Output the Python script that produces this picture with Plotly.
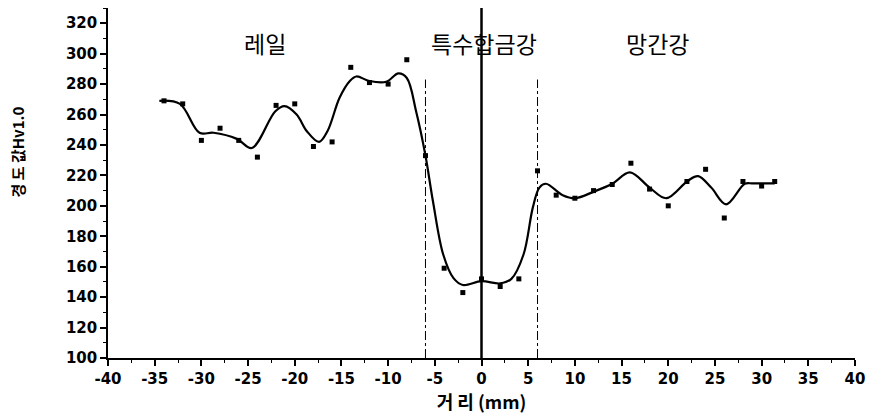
import plotly.graph_objects as go

# measured hardness points
pt_x = [-34, -32, -30, -28, -26, -24, -22, -20, -18, -16, -14, -12, -10, -8, -6, -4, -2, 0, 2, 4, 6,
        8, 10, 12, 14, 16, 18, 20, 22, 24, 26, 28, 30, 31.4]
pt_y = [269, 267, 243, 251, 243, 232, 266, 267, 239, 242, 291, 281, 280, 296, 233, 159, 143, 152, 147, 152, 223,
        207, 205, 210, 214, 228, 211, 200, 216, 224, 192, 216, 213, 216]

# smoothed curve
cv_x = [-34.5, -32.3, -30.2, -28.7, -26.2, -24.6, -22.1, -21.1, -19.8, -18.7, -17.4, -16.5, -15.2, -14.1, -13.4,
        -12, -10.2, -8.9, -8.0, -7.0, -6.0, -5.2, -4.1, -3.0, -2.0, 0, 2, 3.2, 4.5, 5.5, 6.2, 6.9, 8.7, 10, 12.1,
        14, 15.9, 18, 19.8, 22.1, 23.2, 24.6, 26.2, 28.2, 29.1, 31.4]
cv_y = [269, 267, 248, 248, 244, 238, 262, 265.5, 260, 249, 242, 249, 271, 282, 285,
        282, 281.5, 287, 284, 262, 233, 203, 168, 152.5, 148, 150.5, 149, 152, 168, 199, 212, 214.5, 207, 205, 209.5,
        214.5, 222, 212, 205, 216.5, 219.5, 212, 201, 214.5, 214.7, 214.7]

x_ticks = [-40, -35, -30, -25, -20, -15, -10, -5, 0, 5, 10, 15, 20, 25, 30, 35, 40]
y_ticks = [100, 120, 140, 160, 180, 200, 220, 240, 260, 280, 300, 320]

zones = ["레일", "특수합금강", "망간강"]
zone_x = [-23.2, 0.3, 18.8]
zone_y = [307, 307, 307]

fig = go.Figure()
fig.add_trace(go.Scatter(x=cv_x, y=cv_y, mode="lines",
                         line=dict(color="black", width=2.2, shape="spline", smoothing=1.0),
                         hoverinfo="skip", showlegend=False))
fig.add_trace(go.Scatter(x=pt_x, y=pt_y, mode="markers",
                         marker=dict(symbol="square", size=5, color="black"),
                         showlegend=False))

# boundaries
fig.add_shape(type="line", x0=0, x1=0, y0=100, y1=330, line=dict(color="black", width=2.5))
for xb in (-6, 6):
    fig.add_shape(type="line", x0=xb, x1=xb, y0=100, y1=283,
                  line=dict(color="black", width=1, dash="dashdot"))

for t, xx, yy in zip(zones, zone_x, zone_y):
    fig.add_annotation(x=xx, y=yy, text=t, showarrow=False,
                       font=dict(family="Noto Sans CJK KR", size=23, color="black"))

# y-axis title
fig.add_annotation(xref="paper", yref="paper", x=-0.121, y=0.589, xanchor="center", yanchor="middle",
                   text="경 도 값Hv1.0", textangle=-90, showarrow=False,
                   font=dict(family="Noto Sans CJK KR", size=15, color="black", weight="bold"))

bold = dict(family="DejaVu Sans", size=15, color="black", weight="bold")
fig.update_layout(
    width=869, height=412,
    margin=dict(l=100, r=22, t=0, b=62),
    plot_bgcolor="white", paper_bgcolor="white",
    xaxis=dict(range=[-40, 40], tickvals=x_ticks, ticktext=[str(v) for v in x_ticks],
               automargin=False,
               showgrid=False, zeroline=False, showline=True, linecolor="black", linewidth=1.5,
               ticks="outside", ticklen=6, tickwidth=1.5, tickcolor="black", tickfont=bold,
               ticklabelstandoff=0,
               minor=dict(dtick=2.5, ticks="outside", ticklen=3, tickcolor="black", tickwidth=1),
               title=dict(text="거 리 (mm)", font=dict(family="Noto Sans CJK KR", size=18,
                                                     color="black", weight="bold"), standoff=6)),
    yaxis=dict(range=[100, 330], tickvals=y_ticks, ticktext=[str(v) for v in y_ticks],
               automargin=False,
               showgrid=False, zeroline=False, showline=True, linecolor="black", linewidth=1.5,
               ticks="outside", ticklen=6, tickwidth=1.5, tickcolor="black", tickfont=bold,
               minor=dict(dtick=10, ticks="outside", ticklen=3, tickcolor="black", tickwidth=1)),
)

fig.write_html("out.html")
